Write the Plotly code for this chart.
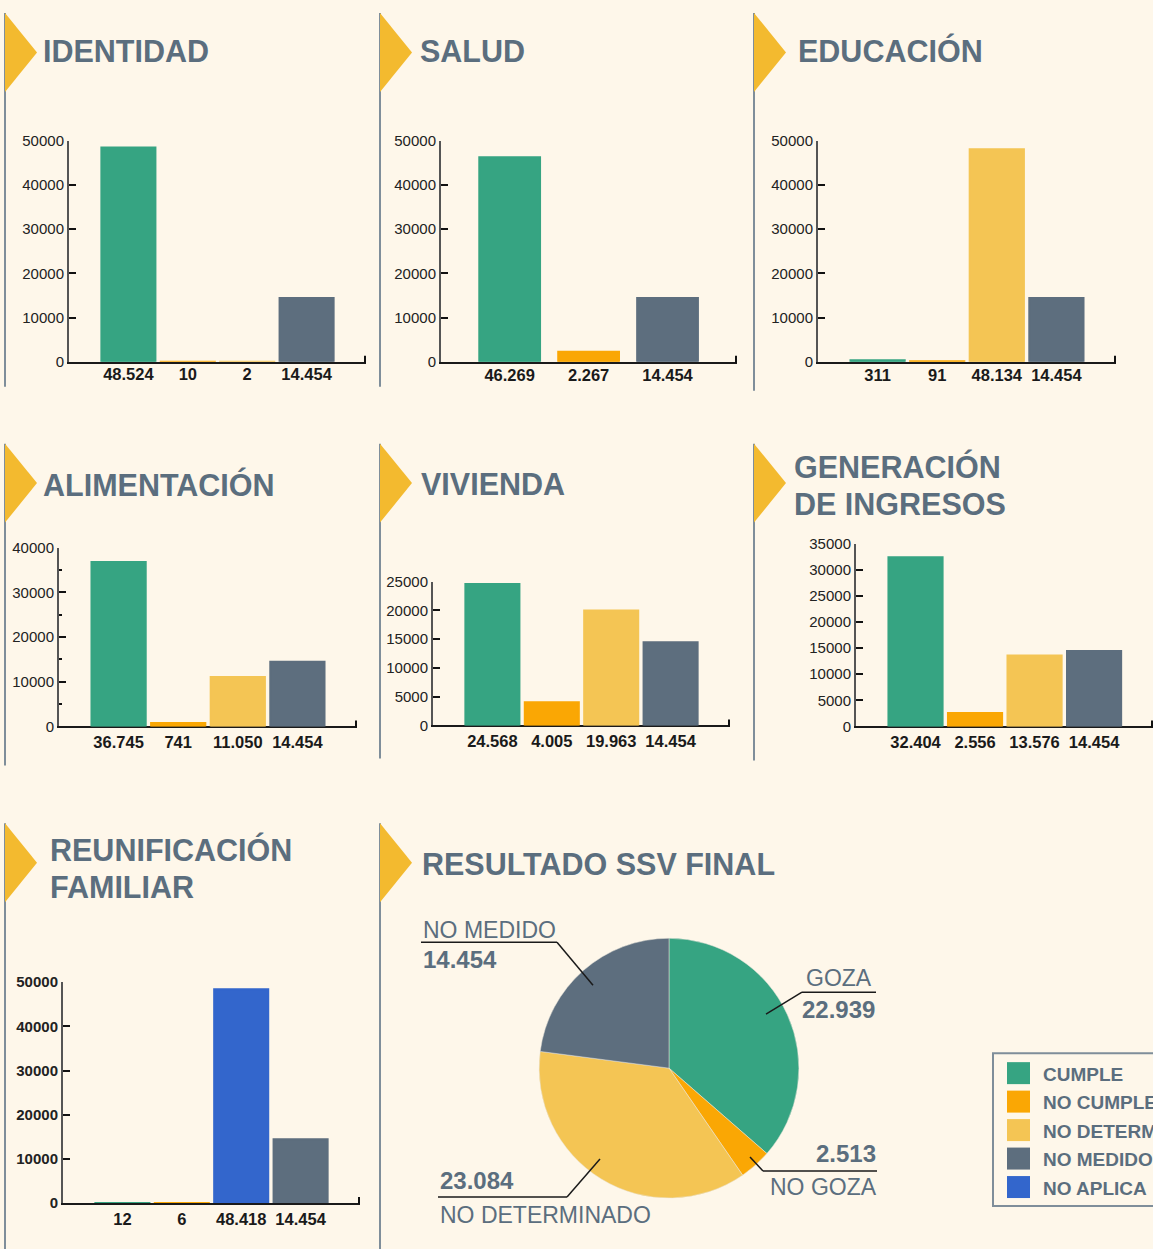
import plotly.graph_objects as go

# ---------------- DATA ----------------
legend_categories = ["CUMPLE", "NO CUMPLE", "NO DETERMINADO", "NO MEDIDO", "NO APLICA"]

identidad_cats = ["CUMPLE", "NO CUMPLE", "NO DETERMINADO", "NO MEDIDO"]
identidad_vals = [48524, 10, 2, 14454]

salud_cats = ["CUMPLE", "NO CUMPLE", "NO MEDIDO"]
salud_vals = [46269, 2267, 14454]

educacion_cats = ["CUMPLE", "NO CUMPLE", "NO DETERMINADO", "NO MEDIDO"]
educacion_vals = [311, 91, 48134, 14454]

alimentacion_cats = ["CUMPLE", "NO CUMPLE", "NO DETERMINADO", "NO MEDIDO"]
alimentacion_vals = [36745, 741, 11050, 14454]

vivienda_cats = ["CUMPLE", "NO CUMPLE", "NO DETERMINADO", "NO MEDIDO"]
vivienda_vals = [24568, 4005, 19963, 14454]

generacion_cats = ["CUMPLE", "NO CUMPLE", "NO DETERMINADO", "NO MEDIDO"]
generacion_vals = [32404, 2556, 13576, 14454]

reunificacion_cats = ["CUMPLE", "NO CUMPLE", "NO APLICA", "NO MEDIDO"]
reunificacion_vals = [12, 6, 48418, 14454]

ssv_labels = ["GOZA", "NO GOZA", "NO DETERMINADO", "NO MEDIDO"]
ssv_vals = [22939, 2513, 23084, 14454]

# ---------------- STYLE ----------------
W, H = 1153, 1249
BG = "#FEF7EA"
TITLE_C = "#5B6E7E"
TRI_C = "#F3BA2F"
PANEL_LINE_C = "#7F8E9A"
COLORS = {
    "CUMPLE": "#36A482",
    "NO CUMPLE": "#FAA704",
    "NO DETERMINADO": "#F4C554",
    "NO MEDIDO": "#5D6E7E",
    "NO APLICA": "#3366CC",
}
SSV_COLORS = {
    "GOZA": COLORS["CUMPLE"],
    "NO GOZA": COLORS["NO CUMPLE"],
    "NO DETERMINADO": COLORS["NO DETERMINADO"],
    "NO MEDIDO": COLORS["NO MEDIDO"],
}
FONT = "Liberation Sans"

# the page is drawn with a small top offset and a slightly shorter plotting height
OFF_Y, H_EFF = 8, 1233


def fx(x):
    return x / W


def fy(y):
    return 1 - (y - OFF_Y) / H_EFF


def fmt(v):
    return f"{v:,}".replace(",", ".")


panels = [
    dict(title=["IDENTIDAD"], tx=41, ty=[50], cats=identidad_cats, vals=identidad_vals,
         ax=(69, 366), ay=(140, 361), ymax=50000, dtick=10000, xr=(-1, 4), bargap=0.09, standoff=-4),
    dict(title=["SALUD"], tx=418, ty=[50], cats=salud_cats, vals=salud_vals,
         ax=(441, 737), ay=(140, 361), ymax=50000, dtick=10000, xr=(-0.87, 2.88), bargap=0.23, standoff=-3),
    dict(title=["EDUCACIÓN"], tx=796, ty=[50], cats=educacion_cats, vals=educacion_vals,
         ax=(818, 1116), ay=(140, 361), ymax=50000, dtick=10000, xr=(-1, 4), bargap=0.09, standoff=-3),
    dict(title=["ALIMENTACIÓN"], tx=41, ty=[484], cats=alimentacion_cats, vals=alimentacion_vals,
         ax=(59, 357), ay=(547, 726), ymax=40000, dtick=10000, xr=(-1, 4), bargap=0.09, minor=5000),
    dict(title=["VIVIENDA"], tx=419, ty=[483], cats=vivienda_cats, vals=vivienda_vals,
         ax=(433, 730), ay=(581, 725), ymax=25000, dtick=5000, xr=(-1, 4), bargap=0.09),
    dict(title=["GENERACIÓN", "DE INGRESOS"], tx=792, ty=[466, 503], cats=generacion_cats, vals=generacion_vals,
         ax=(856, 1153), ay=(543, 726), ymax=35000, dtick=5000, xr=(-1, 3.99), bargap=0.09),
    dict(title=["REUNIFICACIÓN", "FAMILIAR"], tx=48, ty=[849, 887], cats=reunificacion_cats, vals=reunificacion_vals,
         ax=(63, 360), ay=(982, 1203), ymax=50000, dtick=10000, xr=(-1, 4), bargap=0.09, boldticks=True),
]

# panel frames: (x, top, bottom)
frames = [
    (5, 12, 386), (380, 12, 386), (754, 12, 390),
    (5, 443, 765), (380, 443, 758), (754, 443, 760),
    (5, 823, 1252), (380, 823, 1252),
]

fig = go.Figure()
shapes = []
annotations = []

for (x, top, bot) in frames:
    shapes.append(dict(type="line", xref="paper", yref="paper", x0=fx(x), x1=fx(x),
                       y0=fy(top), y1=fy(bot), line=dict(color=PANEL_LINE_C, width=2), layer="below"))
    t0, t1 = top, top + 79
    tip = (t0 + t1) / 2
    path = f"M {fx(x)},{fy(t0)} L {fx(x + 32)},{fy(tip)} L {fx(x)},{fy(t1)} Z"
    shapes.append(dict(type="path", xref="paper", yref="paper", path=path,
                       fillcolor=TRI_C, line=dict(width=0), layer="below"))

# pie panel title
annotations.append(dict(text="<b>RESULTADO SSV FINAL</b>", x=fx(420), y=fy(864), xref="paper", yref="paper",
                        xanchor="left", yanchor="middle", showarrow=False,
                        font=dict(family=FONT, size=30.5, color=TITLE_C)))

layout_axes = {}
for i, p in enumerate(panels, start=1):
    xs = f"x{i}" if i > 1 else "x"
    ys = f"y{i}" if i > 1 else "y"
    n = len(p["vals"])
    cols = [COLORS[c] for c in p["cats"]]
    fig.add_trace(go.Bar(
        x=list(range(n)), y=p["vals"], xaxis=xs, yaxis=ys,
        marker=dict(color=cols, line=dict(color=cols, width=2)),
        width=1 - p["bargap"], showlegend=False,
        hovertext=p["cats"], hoverinfo="text+y",
    ))
    xa = dict(domain=[fx(p["ax"][0]), fx(p["ax"][1])], range=list(p["xr"]),
              tickvals=list(range(n)), ticktext=[f"<b>{fmt(v)}</b>" for v in p["vals"]],
              tickfont=dict(family=FONT, size=16.5, color="#1A1A1A"),
              showline=True, linecolor="#1A1A1A", linewidth=2, layer="below traces",
              showgrid=False, zeroline=False, ticks="", anchor=ys, fixedrange=True)
    if p.get("standoff"):
        xa["ticklabelstandoff"] = p["standoff"]
    ya = dict(domain=[fy(p["ay"][1]), fy(p["ay"][0])], range=[0, p["ymax"]], dtick=p["dtick"],
              tickformat="d",
              tickfont=dict(family=FONT, size=15, color="#222222"),
              showline=True, linecolor="#555555", linewidth=2, layer="below traces",
              ticks="inside", ticklen=7, tickwidth=2, tickcolor="#111111",
              showgrid=False, zeroline=False, anchor=xs, fixedrange=True)
    if p.get("boldticks"):
        ya["tickfont"] = dict(family=FONT, size=15, color="#222222", weight="bold")
    if p.get("minor"):
        ya["minor"] = dict(dtick=p["minor"], ticks="inside", ticklen=3, tickwidth=1.5, tickcolor="#111111")
    layout_axes["xaxis" if i == 1 else f"xaxis{i}"] = xa
    layout_axes["yaxis" if i == 1 else f"yaxis{i}"] = ya
    # right-end tick of x axis
    shapes.append(dict(type="line", xref="paper", yref="paper", x0=fx(p["ax"][1] - 1), x1=fx(p["ax"][1] - 1),
                       y0=fy(p["ay"][1] - 6), y1=fy(p["ay"][1] + 1), line=dict(color="#111111", width=2)))
    for line_text, ty in zip(p["title"], p["ty"]):
        annotations.append(dict(text=f"<b>{line_text}</b>", x=fx(p["tx"]), y=fy(ty), xref="paper", yref="paper",
                                xanchor="left", yanchor="middle", showarrow=False,
                                font=dict(family=FONT, size=30.5, color=TITLE_C)))

# ---------------- PIE ----------------
fig.add_trace(go.Pie(
    values=ssv_vals, labels=ssv_labels,
    marker=dict(colors=[SSV_COLORS[l] for l in ssv_labels], line=dict(color="#E8E4DA", width=0.5)),
    sort=False, direction="clockwise", rotation=0, textinfo="none",
    domain=dict(x=[fx(539), fx(799)], y=[fy(1198), fy(938)]),
    showlegend=False, hoverinfo="label+value",
))

pie_label_pos = {
    "NO MEDIDO": dict(name=(421, 930), val=(421, 959), anchor="left", ul=(421, 557, 942), ld=(557, 942, 593, 985)),
    "GOZA": dict(name=(874, 978), val=(877, 1009), anchor="right", ul=(802, 876, 992), ld=(802, 992, 766, 1014)),
    "NO GOZA": dict(name=(879, 1187), val=(878, 1153), anchor="right", ul=(763, 877, 1171), ld=(763, 1171, 750, 1157)),
    "NO DETERMINADO": dict(name=(438, 1215), val=(438, 1180), anchor="left", ul=(438, 567, 1197), ld=(567, 1197, 600, 1159)),
}
for lab, v in zip(ssv_labels, ssv_vals):
    q = pie_label_pos[lab]
    annotations.append(dict(text=lab, x=fx(q["name"][0]), y=fy(q["name"][1]), xref="paper", yref="paper",
                            xanchor=q["anchor"], yanchor="middle", showarrow=False,
                            font=dict(family=FONT, size=23, color=TITLE_C)))
    annotations.append(dict(text=f"<b>{fmt(v)}</b>", x=fx(q["val"][0]), y=fy(q["val"][1]), xref="paper", yref="paper",
                            xanchor=q["anchor"], yanchor="middle", showarrow=False,
                            font=dict(family=FONT, size=24, color=TITLE_C)))
    x0, x1, yy = q["ul"]
    shapes.append(dict(type="line", xref="paper", yref="paper", x0=fx(x0), x1=fx(x1), y0=fy(yy), y1=fy(yy),
                       line=dict(color="#1A1A1A", width=1.5)))
    a0, b0, a1, b1 = q["ld"]
    shapes.append(dict(type="line", xref="paper", yref="paper", x0=fx(a0), x1=fx(a1), y0=fy(b0), y1=fy(b1),
                       line=dict(color="#1A1A1A", width=1.5)))

# ---------------- LEGEND ----------------
shapes.append(dict(type="rect", xref="paper", yref="paper", x0=fx(993), x1=fx(1170), y0=fy(1206), y1=fy(1053),
                   line=dict(color="#7F8E9A", width=2), fillcolor="rgba(0,0,0,0)"))
for k, cat in enumerate(legend_categories):
    top = 1062 + k * 28.5
    shapes.append(dict(type="rect", xref="paper", yref="paper", x0=fx(1007), x1=fx(1030),
                       y0=fy(top + 22), y1=fy(top), fillcolor=COLORS[cat], line=dict(width=0)))
    annotations.append(dict(text=f"<b>{cat}</b>", x=fx(1041), y=fy(top + 12), xref="paper", yref="paper",
                            xanchor="left", yanchor="middle", showarrow=False,
                            font=dict(family=FONT, size=19, color=TITLE_C)))

fig.update_layout(
    width=W, height=H, margin=dict(l=0, r=0, t=0, b=0),
    paper_bgcolor=BG, plot_bgcolor=BG, showlegend=False,
    shapes=shapes, annotations=annotations, **layout_axes,
)

fig.write_html("out.html")
